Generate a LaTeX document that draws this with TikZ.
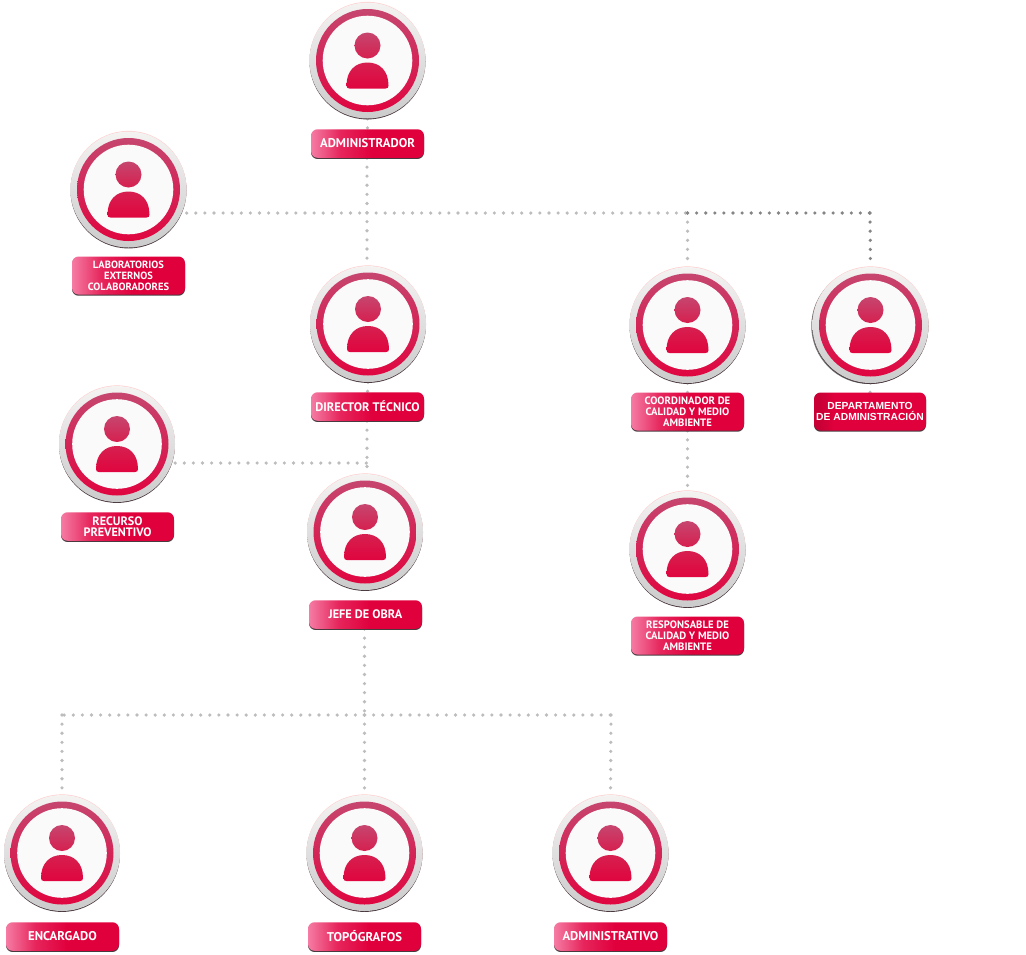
\documentclass[tikz,border=0pt]{standalone}
\usepackage{fontspec}
\setmainfont{PT Sans}
\newfontfamily\deptfont{Liberation Sans}
\usetikzlibrary{backgrounds,shadows}
\definecolor{dotgrey}{HTML}{BDBDBD}
\definecolor{dotdark}{HTML}{858585}
\definecolor{shadowedge}{HTML}{4A3A40}
\definecolor{tagpink}{HTML}{F57CA4}
\definecolor{tagred}{HTML}{E0003C}
\definecolor{ringtop}{HTML}{C6466F}
\definecolor{ringbot}{HTML}{E0053F}
\definecolor{headbot}{HTML}{D6204F}
\definecolor{rimtop}{HTML}{F5F2F2}
\definecolor{rimmid}{HTML}{E4E4E4}
\definecolor{rimbot}{HTML}{CBCBCB}
\pgfdeclarehorizontalshading{tagshade}{100bp}{
  color(0bp)=(tagpink); color(25bp)=(tagpink); color(38bp)=(tagred!70!tagpink);
  color(52bp)=(tagred); color(100bp)=(tagred)}
\pgfdeclarehorizontalshading{deptshade}{100bp}{
  color(0bp)=(tagred!85!black); color(28bp)=(tagred!90!black); color(34bp)=(tagred); color(100bp)=(tagred)}
\tikzset{
  x=1pt,y=-1pt,
  disc/.style={circle,inner sep=0pt,minimum size=116pt,top color=rimtop,middle color=rimmid,bottom color=rimbot,draw=none},
  tag/.style={rectangle,rounded corners=6.5pt,inner sep=0pt,minimum width=113pt,minimum height=28.5pt,
    shading=tagshade,text=white,font=\bfseries\fontsize{12.7}{12.7}\selectfont,align=center,
    drop shadow={shadow xshift=0pt,shadow yshift=-1.2pt,opacity=1,fill=shadowedge}},
  tagthree/.style={tag,minimum height=38pt,font=\bfseries\fontsize{10.5}{11}\selectfont},
  dots/.style={line width=3.6pt,line cap=round,dash pattern=on 0pt off 9.1pt,dotgrey},
  dotsdark/.style={dots,dotdark},
  ringp/.style={top color=ringtop,bottom color=ringbot},
  headp/.style={top color=ringtop,bottom color=headbot},
  bodyp/.style={top color=headbot,bottom color=ringbot},
}
\newcommand{\persona}[3]{%
  \fill[shadowedge] (#2,#3+0.9) circle[radius=58pt];
  \fill[white!80!red] (#2,#3-0.6) circle[radius=58pt];
  \node[disc] (#1) at (#2,#3) {};
  \path[ringp] (#2,#3) circle[radius=51.5pt];
  \fill[white!98!black] (#2,#3) circle[radius=44.8pt];
  \path[headp] (#2,#3-15) circle[radius=13pt];
  \path[bodyp] (#2-21,#3+25) .. controls (#2-21,#3+10) and (#2-12,#3+2) .. (#2,#3+2)
     .. controls (#2+12,#3+2) and (#2+21,#3+10) .. (#2+21,#3+25)
     .. controls (#2+21,#3+27) and (#2+20,#3+28) .. (#2+18,#3+28)
     -- (#2-18,#3+28) .. controls (#2-20,#3+28) and (#2-21,#3+27) .. (#2-21,#3+25) -- cycle;
}
\begin{document}
\begin{tikzpicture}
\useasboundingbox (0,0) rectangle (1026,954);
% people
\persona{admin}{367.5}{60.5}
\persona{lab}{128.5}{189.5}
\persona{dir}{368}{324}
\persona{coord}{687.5}{325}
\fill[black!55] (869.3,326) circle[radius=58pt];
\persona{dept}{870.5}{325}
\persona{rec}{117}{444}
\persona{jefe}{365}{532}
\persona{resp}{687.5}{549}
\persona{enc}{62}{853}
\persona{topo}{364.5}{853}
\persona{adv}{610.5}{853}
% labels
\node[tag] (adminT) at (367.5,143.5) {ADMINISTRADOR};
\node[tagthree] (labT) at (128.5,275.5) {LABORATORIOS\\EXTERNOS\\COLABORADORES};
\node[tag,font=\bfseries\fontsize{12.4}{12.4}\selectfont] (dirT) at (367.5,406.5) {DIRECTOR TÉCNICO};
\node[tagthree,font=\bfseries\fontsize{10.7}{11}\selectfont] (coordT) at (687.5,411.5) {COORDINADOR DE\\CALIDAD Y MEDIO\\AMBIENTE};
\node[tagthree,shading=deptshade,minimum width=112pt,font=\deptfont\bfseries\fontsize{10.3}{11.5}\selectfont] (deptT) at (870,411.5) {DEPARTAMENTO\\DE ADMINISTRACIÓN};
\node[tag,font=\bfseries\fontsize{12.2}{11}\selectfont] (recT) at (117.5,526.5) {RECURSO\\PREVENTIVO};
\node[tag,font=\bfseries\fontsize{12.3}{12.3}\selectfont] (jefeT) at (365.5,614.5) {JEFE DE OBRA};
\node[tagthree,font=\bfseries\fontsize{10.7}{11}\selectfont] (respT) at (687.5,635.5) {RESPONSABLE DE\\CALIDAD Y MEDIO\\AMBIENTE};
\node[tag] (encT) at (62.5,936.5) {ENCARGADO};
\node[tag] (topoT) at (364.5,936.5) {TOPÓGRAFOS};
\node[tag] (advT) at (610.5,936.5) {ADMINISTRATIVO};
% junctions
\coordinate (jA) at (367,213);
\coordinate (jC) at (687.5,213);
\coordinate (jD) at (870,213);
\coordinate (jR) at (367,463);
\coordinate (jJ) at (364.5,715);
\coordinate (jE) at (62,715);
\coordinate (jV) at (611,715);
\begin{pgfonlayer}{background}
\draw[dots] (admin.south) -- (adminT.north);
\draw[dots] (adminT.south -| jA) -- (jA |- dir.north);
\draw[dots] (lab.east |- jA) -- (jA);
\draw[dots] (jA) -- (jC);
\draw[dots] (jC) -- (coord.north);
\draw[dotsdark] (jC) -- (jD);
\draw[dotsdark] (jD) -- (dept.north);
\draw[dots] (dir.south) -- (dirT.north);
\draw[dots] (dirT.south -| jR) -- (jR |- jefe.north);
\draw[dots] (rec.east |- jR) -- (jR);
\draw[dots] (coord.south) -- (coordT.north);
\draw[dots] (coordT.south) -- (resp.north);
\draw[dots] (dept.south) -- (deptT.north);
\draw[dots] (jefeT.south -| jJ) -- (jJ);
\draw[dots] (jJ) -- (topo.north);
\draw[dots] (jJ) -- (jE);
\draw[dots] (jE) -- (enc.north);
\draw[dots] (jJ) -- (jV);
\draw[dots] (jV) -- (adv.north);
\end{pgfonlayer}
\end{tikzpicture}
\end{document}
